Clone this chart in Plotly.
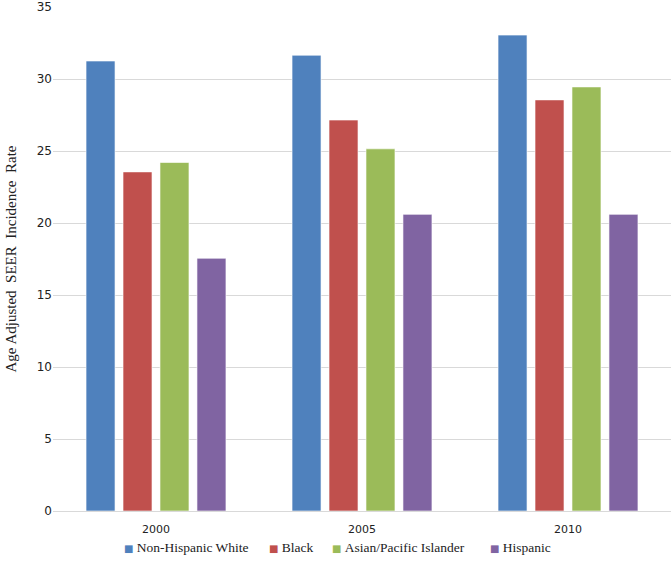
import plotly.graph_objects as go

years = ["2000", "2005", "2010"]
series_names = ["Non-Hispanic White", "Black", "Asian/Pacific Islander", "Hispanic"]
non_hispanic_white = [31.25, 31.65, 33.05]
black = [23.55, 27.15, 28.55]
asian_pacific = [24.2, 25.15, 29.45]
hispanic = [17.55, 20.6, 20.6]
colors = ["#4F81BD", "#C0504D", "#9BBB59", "#8064A2"]

# left edges (paper fraction) of the legend entries, drawn below the plot
legend_x = [0.1117, 0.3463, 0.4482, 0.7039]

fig = go.Figure()
for name, vals, col in zip(series_names, [non_hispanic_white, black, asian_pacific, hispanic], colors):
    fig.add_trace(go.Bar(
        x=years, y=vals, name=name, showlegend=False,
        marker=dict(color=col, line=dict(color="rgba(255,255,255,0.6)", width=1)),
    ))

annotations = [
    dict(
        text=f"<span style='color:{c};font-family:DejaVu Sans;font-size:10px'>\u25a0 </span>{n}",
        xref="paper", yref="paper", x=lx, y=-0.0734,
        xanchor="left", yanchor="middle", showarrow=False,
        font=dict(family="Liberation Serif", size=13.5, color="#222"),
    )
    for n, c, lx in zip(series_names, colors, legend_x)
]

fig.update_layout(
    width=671, height=569,
    barmode="group", bargap=0.282, bargroupgap=0.216,
    plot_bgcolor="white", paper_bgcolor="white",
    margin=dict(l=53, r=0, t=7, b=58, autoexpand=False),
    yaxis=dict(
        range=[0, 35], dtick=5, showgrid=True, gridcolor="#D9D9D9", gridwidth=1,
        zeroline=False, showline=False, ticks="", automargin=False,
        tickfont=dict(family="DejaVu Sans", size=12, color="#222"),
        title=dict(text="Age Adjusted  SEER  Incidence  Rate",
                   font=dict(family="Liberation Serif", size=15, color="#222"), standoff=16),
    ),
    xaxis=dict(
        showline=True, linecolor="#D9D9D9", linewidth=1, ticks="", automargin=False,
        ticklabelstandoff=8,
        tickfont=dict(family="DejaVu Sans", size=11, color="#222"),
    ),
    annotations=annotations,
)

fig.write_html("out.html", config={"displayModeBar": False},
               post_script="document.body.style.margin='0px';")
